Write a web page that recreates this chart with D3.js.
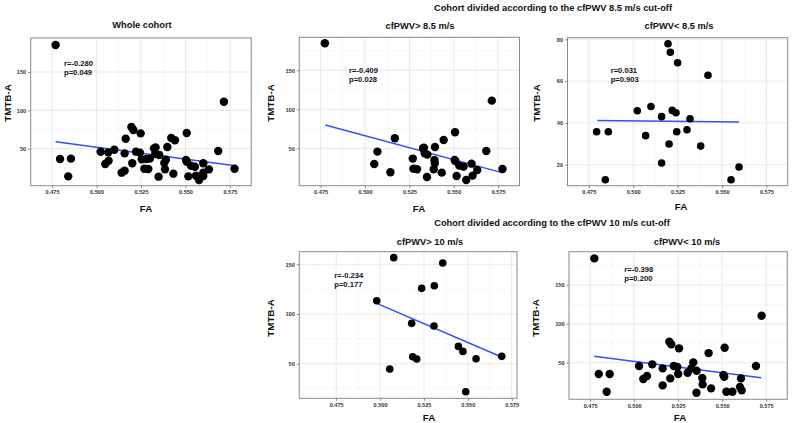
<!DOCTYPE html>
<html><head><meta charset="utf-8">
<script src="https://cdn.jsdelivr.net/npm/d3@7"></script>
<style>
body{margin:0;background:#fff}
svg{display:block}
text{font-family:"Liberation Sans",Arial,Helvetica,sans-serif;font-weight:bold}
</style>
</head><body>
<svg id="chart" width="794" height="423"></svg>
<script>
// ---------------- DATA ----------------
const xTicks = [0.475, 0.500, 0.525, 0.550, 0.575];

// Whole cohort
const wholeFA = [0.4770,0.4795,0.4856,0.4841,0.5023,0.5049,0.5068,0.5066,0.5100,0.5141,0.5158,0.5158,0.5164,0.5196,0.5207,0.5201,0.5222,0.5248,0.5244,0.5254,0.5280,0.5269,0.5291,0.5300,0.5323,0.5332,0.5330,0.5349,0.5353,0.5381,0.5385,0.5390,0.5398,0.5420,0.5441,0.5432,0.5507,0.5503,0.5507,0.5516,0.5531,0.5553,0.5559,0.5576,0.5600,0.5600,0.5600,0.5632,0.5684,0.5716,0.5776];
const wholeTMT = [185.2,36.5,37,13.9,46,30,34.3,45.2,48.7,18.7,21.3,43.9,63,78.3,74.3,30.9,46.1,70,44.8,36.1,36.5,23.9,23.5,37,50.4,51.7,43,13.5,41.7,31.3,23,35.7,52.2,63.9,60.9,17.4,70.4,35.2,33,13.9,27.8,26.5,14.8,9.1,30.9,18.7,14.3,23,47,111.3,23.9];
const wholeFitX = [0.4770, 0.5779];
const wholeFitY = [59.1, 27.8];
const wholeStats = ["r=-0.280", "p=0.049"];
const wholeYTicks = [50, 100, 150];

// cfPWV > 8.5 m/s
const gt85FA = [0.4774,0.5052,0.5070,0.5143,0.5168,0.5269,0.5273,0.5293,0.5327,0.5332,0.5336,0.5351,0.5349,0.5394,0.5391,0.5393,0.5387,0.5432,0.5443,0.5507,0.5505,0.5508,0.5516,0.5531,0.5555,0.5570,0.5600,0.5606,0.5632,0.5683,0.5714,0.5774];
const gt85TMT = [184.6,29.9,45.7,19.2,62.8,36.8,23.9,23.1,50,50.9,43.6,41.9,13.2,51.7,35,30.8,23.1,18.8,60.7,70.5,35,33.8,14.5,27.8,26.5,9.4,30.3,15,22.2,46.6,111.1,23.5];
const gt85FitX = [0.4776, 0.5771];
const gt85FitY = [79.9, 18.8];
const gt85Stats = ["r=-0.409", "p=0.028"];
const gt85YTicks = [50, 100, 150];

// cfPWV < 8.5 m/s
const lt85FA = [0.4794,0.4860,0.4843,0.5023,0.5070,0.5100,0.5160,0.5160,0.5196,0.5209,0.5202,0.5220,0.5241,0.5250,0.5245,0.5303,0.5320,0.5380,0.5421,0.5551,0.5596];
const lt85TMT = [35.8,35.8,12.8,45.85,33.9,47.9,43,20.8,77.9,73.8,29.9,46,44.9,68.8,35.8,36.75,42,28.9,62.8,12.8,18.9];
const lt85FitX = [0.4798, 0.5596];
const lt85FitY = [41.2, 40.4];
const lt85Stats = ["r=0.031", "p=0.903"];
const lt85YTicks = [20, 40, 60, 80];

// cfPWV > 10 m/s
const gt10FA = [0.4981,0.5078,0.5055,0.5180,0.5186,0.5209,0.5237,0.5309,0.5307,0.5357,0.5446,0.5472,0.5547,0.5488,0.5693];
const gt10TMT = [113.4,156.7,44.6,90.6,57,54.7,125.8,128.5,87.9,151.3,67.4,62.4,55,21.8,57.4];
const gt10FitX = [0.4981, 0.5689];
const gt10FitY = [110.7, 57];
const gt10Stats = ["r=-0.234", "p=0.177"];
const gt10YTicks = [50, 100, 150];

// cfPWV < 10 m/s
const lt10FA = [0.4774,0.4799,0.4861,0.4844,0.5028,0.5052,0.5073,0.5103,0.5162,0.5162,0.5200,0.5211,0.5205,0.5225,0.5245,0.5255,0.5250,0.5304,0.5336,0.5325,0.5355,0.5354,0.5387,0.5389,0.5423,0.5437,0.5514,0.5507,0.5512,0.5524,0.5558,0.5601,0.5607,0.5611,0.5692,0.5724];
const lt10TMT = [184.3,35.4,35.4,12.7,45.7,29,32.8,47.9,20.8,42.7,77,73.6,29.8,45.7,44.4,68.5,35.4,37.1,50.4,42.7,39.7,11.4,30.3,22.1,62.4,17,69.3,34.1,32,12.7,12.7,18.7,29.8,14.4,45.7,110.5];
const lt10FitX = [0.4772, 0.5721];
const lt10FitY = [58.2, 30.7];
const lt10Stats = ["r=-0.398", "p=0.200"];
const lt10YTicks = [50, 100, 150];

const titles = ["Whole cohort", "cfPWV> 8.5 m/s", "cfPWV< 8.5 m/s", "cfPWV> 10 m/s", "cfPWV< 10 m/s"];
const groupTitles = ["Cohort divided according to the cfPWV 8.5 m/s cut-off",
                     "Cohort divided according to the cfPWV 10 m/s cut-off"];
const xLabel = "FA";
const yLabel = "TMTB-A";

// ---------------- LAYOUT ----------------
const svg = d3.select("#chart");

const panels = [
  {fa: wholeFA, tmt: wholeTMT, fx: wholeFitX, fy: wholeFitY, stats: wholeStats, yt: wholeYTicks, title: titles[0],
   box: [30.7, 251.3, 38, 185.7], xd: [0.463, 0.587], yd: [1.7, 194.4], tpos: [142, 26], spos: [64, 64], ylab: [8.5, 103], xlab: [146, 209], r: 4.2},
  {fa: gt85FA, tmt: gt85TMT, fx: gt85FitX, fy: gt85FitY, stats: gt85Stats, yt: gt85YTicks, title: titles[1],
   box: [299.3, 519.5, 37.3, 185.7], xd: [0.463, 0.587], yd: [2.05, 192.3], tpos: [420, 26.7], spos: [349, 70.7], ylab: [271, 103], xlab: [419, 209], r: 4.2},
  {fa: lt85FA, tmt: lt85TMT, fx: lt85FitX, fy: lt85FitY, stats: lt85Stats, yt: lt85YTicks, title: titles[2],
   box: [567.5, 787.7, 37.7, 185.7], xd: [0.463, 0.587], yd: [9.95, 80.8], tpos: [679, 26.7], spos: [610.7, 70.7], ylab: [537, 103], xlab: [681, 207.5], r: 3.8},
  {fa: gt10FA, tmt: gt10TMT, fx: gt10FitX, fy: gt10FitY, stats: gt10Stats, yt: gt10YTicks, title: titles[3],
   box: [299.3, 517, 251.7, 398.3], xd: [0.454, 0.578], yd: [15.2, 162.7], tpos: [430, 242.5], spos: [334.3, 275.7], ylab: [271, 318], xlab: [429, 418.3], r: 3.8},
  {fa: lt10FA, tmt: lt10TMT, fx: lt10FitX, fy: lt10FitY, stats: lt10Stats, yt: lt10YTicks, title: titles[4],
   box: [569, 787.3, 251.7, 399.3], xd: [0.463, 0.587], yd: [2.9, 192.9], tpos: [687, 242.5], spos: [624.3, 270], ylab: [536, 318], xlab: [680, 418.3], r: 4.2}
];

function minorTicks(major, dom) {
  const step = major[1] - major[0];
  const out = [];
  for (let v = major[0] - step / 2; v <= dom[1] + 1e-9; v += step) {
    if (v >= dom[0] && v <= dom[1]) out.push(v);
  }
  return out;
}

panels.forEach(p => {
  const [x0, x1, y0, y1] = p.box;
  const x = d3.scaleLinear().domain(p.xd).range([x0, x1]);
  const y = d3.scaleLinear().domain(p.yd).range([y1, y0]);
  const g = svg.append("g");

  // background
  g.append("rect").attr("x", x0).attr("y", y0).attr("width", x1 - x0).attr("height", y1 - y0).attr("fill", "#fff");

  // minor grid
  const xm = minorTicks(xTicks, p.xd);
  const ym = minorTicks(p.yt, p.yd);
  g.selectAll(".xm").data(xm).join("line")
    .attr("x1", d => x(d)).attr("x2", d => x(d)).attr("y1", y0).attr("y2", y1)
    .attr("stroke", "#f0f0f0").attr("stroke-width", 0.5);
  g.selectAll(".ym").data(ym).join("line")
    .attr("y1", d => y(d)).attr("y2", d => y(d)).attr("x1", x0).attr("x2", x1)
    .attr("stroke", "#f0f0f0").attr("stroke-width", 0.5);
  // major grid
  g.selectAll(".xg").data(xTicks).join("line")
    .attr("x1", d => x(d)).attr("x2", d => x(d)).attr("y1", y0).attr("y2", y1)
    .attr("stroke", "#e3e3e3").attr("stroke-width", 0.8);
  g.selectAll(".yg").data(p.yt).join("line")
    .attr("y1", d => y(d)).attr("y2", d => y(d)).attr("x1", x0).attr("x2", x1)
    .attr("stroke", "#e3e3e3").attr("stroke-width", 0.8);

  // axes
  const xa = g.append("g").attr("transform", `translate(0,${y1})`)
    .call(d3.axisBottom(x).tickValues(xTicks).tickFormat(d3.format(".3f")).tickSize(2.5).tickPadding(2));
  const ya = g.append("g").attr("transform", `translate(${x0},0)`)
    .call(d3.axisLeft(y).tickValues(p.yt).tickFormat(d3.format("d")).tickSize(2.5).tickPadding(2));
  [xa, ya].forEach(a => {
    a.select(".domain").remove();
    a.selectAll(".tick line").attr("stroke", "#555").attr("stroke-width", 0.7);
    a.selectAll(".tick text").attr("fill", "#333").style("font-size", "5.6px")
      .style("font-family", '"Liberation Sans",Arial,sans-serif').style("font-weight", "bold");
  });

  // regression line
  g.append("line")
    .attr("x1", x(p.fx[0])).attr("y1", y(p.fy[0]))
    .attr("x2", x(p.fx[1])).attr("y2", y(p.fy[1]))
    .attr("stroke", "#3050ff").attr("stroke-width", 1.5);

  // points
  g.selectAll(".pt").data(p.fa.map((v, i) => [v, p.tmt[i]])).join("circle")
    .attr("cx", d => x(d[0])).attr("cy", d => y(d[1])).attr("r", p.r).attr("fill", "#000");

  // border
  g.append("rect").attr("x", x0).attr("y", y0).attr("width", x1 - x0).attr("height", y1 - y0)
    .attr("fill", "none").attr("stroke", "#8a8a8a").attr("stroke-width", 1);

  // stats
  p.stats.forEach((s, i) => {
    g.append("text").attr("x", p.spos[0]).attr("y", p.spos[1] + i * 9)
      .attr("dominant-baseline", "middle").style("font-size", "7.6px").attr("fill", "#111").text(s);
  });

  // title
  g.append("text").attr("x", p.tpos[0]).attr("y", p.tpos[1]).attr("text-anchor", "middle")
    .attr("dominant-baseline", "middle").style("font-size", "9.3px").attr("fill", "#111").text(p.title);

  // axis labels
  g.append("text").attr("x", p.xlab[0]).attr("y", p.xlab[1]).attr("text-anchor", "middle")
    .attr("dominant-baseline", "middle").style("font-size", "9.8px").attr("fill", "#111").text(xLabel);
  g.append("text").attr("transform", `translate(${p.ylab[0]},${p.ylab[1]}) rotate(-90)`)
    .attr("text-anchor", "middle").attr("dominant-baseline", "middle")
    .style("font-size", "9.8px").attr("fill", "#111").text(yLabel);
});

// group titles
svg.append("text").attr("x", 553).attr("y", 8.5).attr("text-anchor", "middle").attr("dominant-baseline", "middle")
  .style("font-size", "9.3px").attr("fill", "#111").text(groupTitles[0]);
svg.append("text").attr("x", 552).attr("y", 223.5).attr("text-anchor", "middle").attr("dominant-baseline", "middle")
  .style("font-size", "9.3px").attr("fill", "#111").text(groupTitles[1]);
</script>
</body></html>
